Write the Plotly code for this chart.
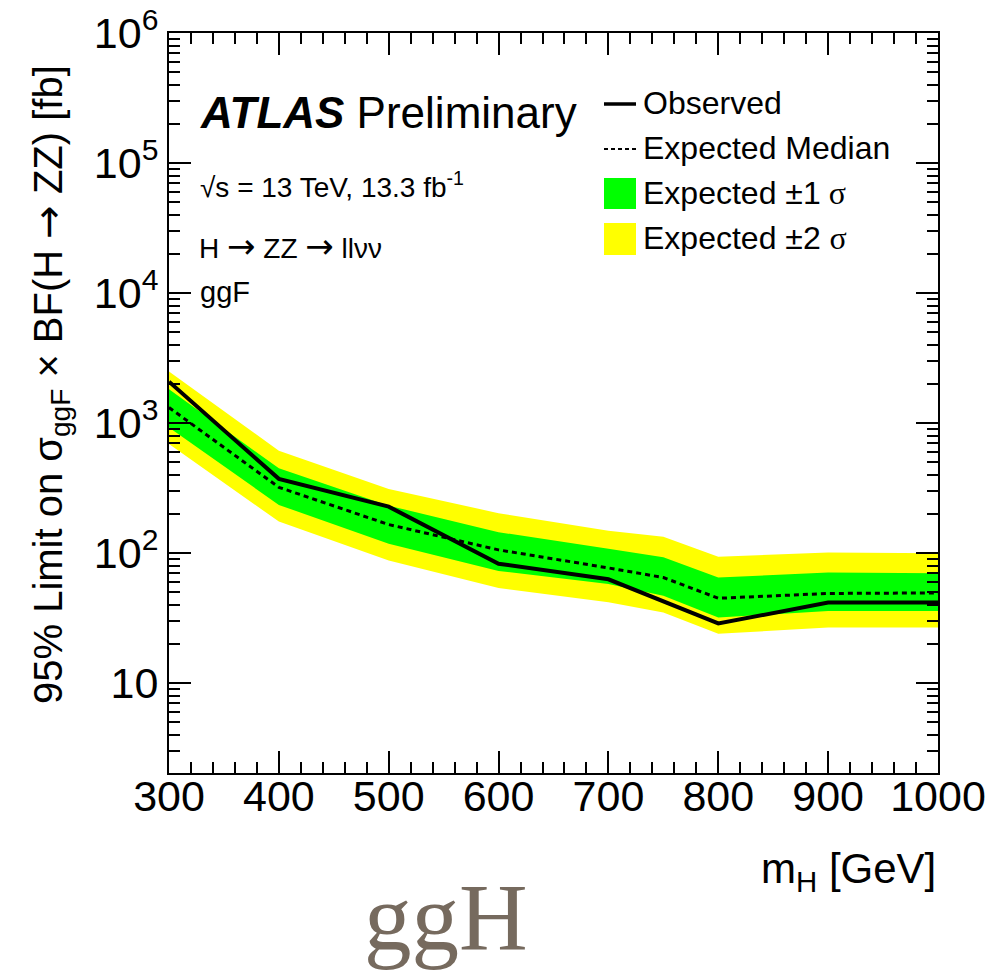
import math
import plotly.graph_objects as go

# ---- data ----
mass = [300, 400, 500, 600, 700, 750, 800, 900, 1000]
observed = [2085, 373, 228, 83, 63, 43, 28.8, 41.7, 41.7]
expected = [1318, 321, 166, 106, 77, 65, 45, 49, 49.5]
plus1 = [1823, 449, 232, 145, 108, 93, 65, 71, 70]
minus1 = [925, 235, 118, 73, 58, 47, 32, 36, 36]
plus2 = [2490, 614, 312, 203, 149, 134, 94, 101, 100]
minus2 = [690, 175, 88, 54, 42, 35, 24, 26.8, 26.8]

ytick_vals = [10, 1e2, 1e3, 1e4, 1e5, 1e6]
ytick_text = ["10", "10<sup>2</sup>", "10<sup>3</sup>", "10<sup>4</sup>", "10<sup>5</sup>", "10<sup>6</sup>"]
xtick_vals = [300, 400, 500, 600, 700, 800, 900, 1000]

W, H = 989, 976
L, R, T, B = 169, 51, 33, 203
PW, PH = W - L - R, H - T - B

def px(x):
    return (x - L) / PW

def py(y):
    return (H - B - y) / PH

FONT = "Liberation Sans, Arial, Helvetica, sans-serif"
YELLOW = "#ffff00"
GREEN = "#00ff00"

def arrow(size):
    return f"<span style='font-family:DejaVu Sans ExtraLight,DejaVu Sans;font-size:{size}px'>→</span>"

fig = go.Figure()
fig.add_trace(go.Scatter(x=mass + mass[::-1], y=plus2 + minus2[::-1], fill="toself",
                         fillcolor=YELLOW, mode="lines", line=dict(width=0, color=YELLOW),
                         showlegend=False, hoverinfo="skip"))
fig.add_trace(go.Scatter(x=mass + mass[::-1], y=plus1 + minus1[::-1], fill="toself",
                         fillcolor=GREEN, mode="lines", line=dict(width=0, color=GREEN),
                         showlegend=False, hoverinfo="skip"))
fig.add_trace(go.Scatter(x=mass, y=expected, mode="lines",
                         line=dict(color="black", width=3, dash="5px,4px"),
                         showlegend=False))
fig.add_trace(go.Scatter(x=mass, y=observed, mode="lines",
                         line=dict(color="black", width=4),
                         showlegend=False))

axis_common = dict(showline=True, linecolor="black", linewidth=2, mirror="allticks",
                   ticks="inside", tickcolor="black", tickwidth=1.5, ticklen=22,
                   showgrid=False, zeroline=False,
                   tickfont=dict(family=FONT, size=43, color="black"))

fig.update_xaxes(range=[300, 1000], tickmode="array", tickvals=xtick_vals,
                 ticklabelstandoff=-16,
                 minor=dict(ticks="inside", ticklen=11, tickwidth=1.5, tickcolor="black",
                            tickmode="linear", tick0=300, dtick=20, showgrid=False),
                 **axis_common)
fig.update_yaxes(type="log", range=[math.log10(2.04), 6], tickmode="array",
                 tickvals=ytick_vals, ticktext=ytick_text,
                 minor=dict(ticks="inside", ticklen=11, tickwidth=1.5, tickcolor="black",
                            dtick="D1", showgrid=False),
                 **axis_common)

ann = []
ann.append(dict(x=px(50), y=py(385), xref="paper", yref="paper", textangle=-90,
                text="95% Limit on σ<sub>ggF</sub> × BF(H " + arrow(40) + " ZZ) [fb]",
                showarrow=False, xanchor="center", yanchor="middle",
                font=dict(family=FONT, size=40, color="black")))
ann.append(dict(x=1, y=py(871), xref="paper", yref="paper",
                text="m<sub>H</sub> [GeV]", showarrow=False, xanchor="right", yanchor="middle",
                font=dict(family=FONT, size=42, color="black")))
ann.append(dict(x=px(446), y=py(918), xref="paper", yref="paper",
                text="ggH", showarrow=False, xanchor="center", yanchor="middle",
                font=dict(family="Liberation Serif, Times New Roman, serif", size=95, color="#766a5e")))
ann.append(dict(x=px(198), y=py(112), xref="paper", yref="paper",
                text="<b><i>ATLAS</i></b> Preliminary", showarrow=False, xanchor="left", yanchor="middle",
                font=dict(family=FONT, size=44, color="black")))
ann.append(dict(x=px(198), y=py(185), xref="paper", yref="paper",
                text="√s = 13 TeV, 13.3 fb<sup>-1</sup>", showarrow=False, xanchor="left", yanchor="middle",
                font=dict(family=FONT, size=28, color="black")))
ann.append(dict(x=px(197), y=py(246), xref="paper", yref="paper",
                text="H " + arrow(34) + " ZZ " + arrow(34) + " llνν", showarrow=False,
                xanchor="left", yanchor="middle",
                font=dict(family=FONT, size=28, color="black")))
ann.append(dict(x=px(198), y=py(292), xref="paper", yref="paper",
                text="ggF", showarrow=False, xanchor="left", yanchor="middle",
                font=dict(family=FONT, size=29, color="black")))

legend_labels = ["Observed", "Expected Median",
                 "Expected ±1<span style='font-family:Liberation Serif'> σ</span>",
                 "Expected ±2 <span style='font-family:Liberation Serif'>σ</span>"]
legend_y = [103, 148, 193, 238]
for lab, yy in zip(legend_labels, legend_y):
    ann.append(dict(x=px(641), y=py(yy), xref="paper", yref="paper", text=lab,
                    showarrow=False, xanchor="left", yanchor="middle",
                    font=dict(family=FONT, size=32, color="black")))

shapes = [
    dict(type="line", xref="paper", yref="paper", x0=px(604), x1=px(636), y0=py(104), y1=py(104),
         line=dict(color="black", width=3.5)),
    dict(type="line", xref="paper", yref="paper", x0=px(604), x1=px(636), y0=py(149), y1=py(149),
         line=dict(color="black", width=2, dash="4px,3px")),
    dict(type="rect", xref="paper", yref="paper", x0=px(604), x1=px(636), y0=py(209), y1=py(178),
         fillcolor=GREEN, line=dict(width=0)),
    dict(type="rect", xref="paper", yref="paper", x0=px(604), x1=px(636), y0=py(255), y1=py(223),
         fillcolor=YELLOW, line=dict(width=0)),
]

fig.update_layout(width=W, height=H, margin=dict(l=L, r=R, t=T, b=B, autoexpand=False),
                  plot_bgcolor="white", paper_bgcolor="white",
                  font=dict(family=FONT, color="black"),
                  annotations=ann, shapes=shapes, showlegend=False)

fig.write_html("out.html")
